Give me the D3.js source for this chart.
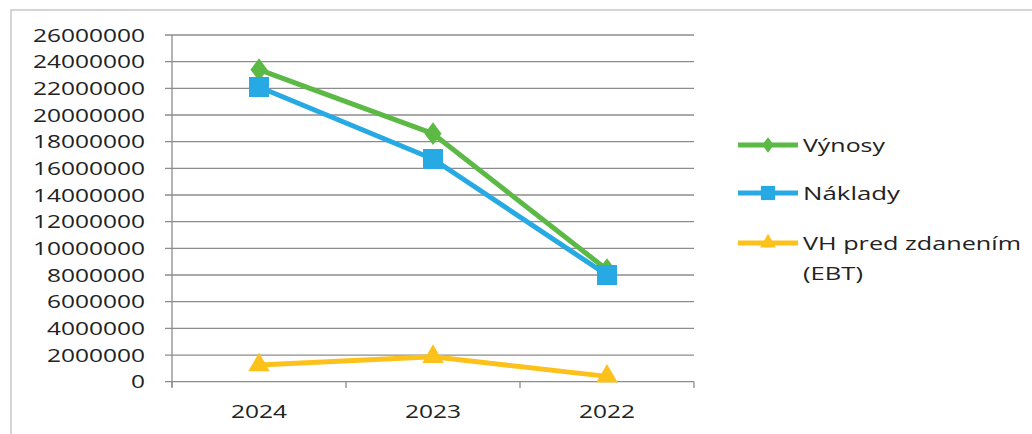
<!DOCTYPE html>
<html><head><meta charset="utf-8">
<script src="https://cdn.jsdelivr.net/npm/d3@7/dist/d3.min.js"></script>
<style>body{margin:0;background:#fff}svg{display:block}</style>
</head><body>
<script>
const categories = ["2024", "2023", "2022"];
const vynosy = [23400000, 18600000, 8400000];
const naklady = [22100000, 16700000, 8000000];
const ebt = [1250000, 1870000, 400000];
const yTicks = [0,2000000,4000000,6000000,8000000,10000000,12000000,14000000,16000000,18000000,20000000,22000000,24000000,26000000];
const seriesNames = ["Výnosy", "Náklady", "VH pred zdanením (EBT)"];

const W = 1032, H = 434;
const svg = d3.select("body").append("svg").attr("width", W).attr("height", H);
const font = "'Open Sans', sans-serif";

// outer frame
svg.append("path").attr("d", `M11,${H} V10 H${W}`).attr("fill","none").attr("stroke","#c8c8c8").attr("stroke-width",1.5);

const x = d3.scaleBand().domain(categories).range([172, 694]);
const y = d3.scaleLinear().domain([0, 26000000]).range([381.7, 35]);

// gridlines
svg.append("g").selectAll("line").data(yTicks).join("line")
  .attr("x1", 165).attr("x2", 694)
  .attr("y1", d => y(d)).attr("y2", d => y(d))
  .attr("stroke", "#8c8c8c").attr("stroke-width", 1.3);

// y axis
svg.append("line").attr("x1",172).attr("x2",172).attr("y1",y(26000000)).attr("y2",387).attr("stroke","#8c8c8c").attr("stroke-width",1.3);
// x axis ticks
const xt = [172, ...categories.map(c => x(c) + x.bandwidth())];
svg.append("g").selectAll("line").data(xt).join("line")
  .attr("x1", d=>d).attr("x2", d=>d).attr("y1", 381.7).attr("y2", 388)
  .attr("stroke","#8c8c8c").attr("stroke-width",1.3);

// y tick labels
svg.append("g").selectAll("text").data(yTicks).join("text")
  .attr("x", 145).attr("y", d => y(d) + 6.5)
  .attr("text-anchor","end")
  .attr("font-family", font).attr("font-size", 18).attr("fill","#222")
  .attr("textLength", d => String(d).length * 14).attr("lengthAdjust","spacingAndGlyphs")
  .text(d => d);

// x labels
svg.append("g").selectAll("text").data(categories).join("text")
  .attr("x", d => x(d) + x.bandwidth()/2).attr("y", 418)
  .attr("text-anchor","middle")
  .attr("font-family", font).attr("font-size", 18).attr("fill","#222")
  .attr("textLength", 56).attr("lengthAdjust","spacingAndGlyphs")
  .text(d => d);

const cx = c => x(c) + x.bandwidth()/2;
const colors = ["#5cb946", "#27a9e3", "#fcc21b"];
const data = [vynosy, naklady, ebt];
const symbols = [d3.symbolDiamond, d3.symbolSquare, d3.symbolTriangle];
const sizes = [150, 400, 200];

const line = d3.line().x((d,i) => cx(categories[i])).y(d => y(d));
data.forEach((s, k) => {
  svg.append("path").datum(s).attr("d", line)
    .attr("fill","none").attr("stroke", colors[k]).attr("stroke-width", 5).attr("stroke-linejoin","round");
  svg.append("g").selectAll("path").data(s).join("path")
    .attr("transform", (d,i) => `translate(${cx(categories[i])},${y(d)})` + (k===0 ? " scale(1.3,1)" : ""))
    .attr("d", d3.symbol().type(symbols[k]).size(sizes[k]))
    .attr("fill", colors[k]);
});

// legend
const legY = [145, 193, 243];
const leg = svg.append("g");
seriesNames.forEach((n, k) => {
  leg.append("line").attr("x1",738).attr("x2",798).attr("y1",legY[k]).attr("y2",legY[k])
    .attr("stroke",colors[k]).attr("stroke-width",5);
  leg.append("path").attr("transform",`translate(768,${legY[k]})` + (k===0 ? " scale(1.3,1)" : ""))
    .attr("d", d3.symbol().type(symbols[k]).size([70, 200, 110][k])).attr("fill",colors[k]);
});
const lt = (txt, yy, len) => leg.append("text").attr("x",803).attr("y",yy)
  .attr("font-family",font).attr("font-size",19).attr("fill","#222")
  .attr("textLength",len).attr("lengthAdjust","spacingAndGlyphs").text(txt);
lt("Výnosy", legY[0]+7, 82);
lt("Náklady", legY[1]+7, 97);
lt("VH pred zdanením", legY[2]+7, 218);
lt("(EBT)", legY[2]+37, 60);
</script>
</body></html>
